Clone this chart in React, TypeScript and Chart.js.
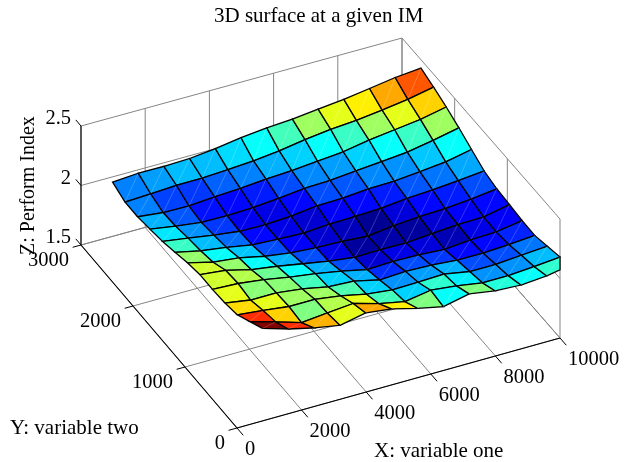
import React, { useEffect, useRef } from "react";
import { Chart } from "chart.js/auto";

// Surface grid (data units)
const xGrid = [400, 1200, 2000, 2800, 3600, 4400, 5200, 6000, 6800, 7600, 8400, 9200, 10000];
const yGrid = [-240, 0, 240, 480, 720, 960, 1200, 1440, 1680, 1920, 2160, 2400, 2640];
const zRows = [
  [2.43, 2.364, 2.313, 2.274, 2.317, 2.29, 2.235, 2.188, 2.235, 2.2, 2.188, 2.204, 2.244],
  [2.364, 2.301, 2.235, 2.255, 2.274, 2.212, 2.169, 2.204, 2.18, 2.145, 2.145, 2.161, 2.18],
  [2.297, 2.274, 2.247, 2.247, 2.216, 2.169, 2.145, 2.149, 2.157, 2.118, 2.118, 2.134, 2.15],
  [2.274, 2.239, 2.239, 2.212, 2.169, 2.157, 2.106, 2.118, 2.11, 2.091, 2.091, 2.102, 2.119],
  [2.266, 2.255, 2.227, 2.188, 2.157, 2.118, 2.071, 2.079, 2.075, 2.06, 2.079, 2.087, 2.122],
  [2.266, 2.243, 2.188, 2.157, 2.118, 2.079, 2.052, 2.056, 2.052, 2.071, 2.087, 2.091, 2.134],
  [2.243, 2.188, 2.165, 2.118, 2.087, 2.071, 2.063, 2.048, 2.075, 2.091, 2.099, 2.118, 2.145],
  [2.208, 2.161, 2.13, 2.091, 2.079, 2.071, 2.087, 2.091, 2.099, 2.122, 2.134, 2.153, 2.174],
  [2.177, 2.145, 2.11, 2.083, 2.079, 2.091, 2.118, 2.122, 2.141, 2.145, 2.165, 2.188, 2.232],
  [2.157, 2.122, 2.095, 2.091, 2.099, 2.118, 2.141, 2.149, 2.169, 2.188, 2.208, 2.247, 2.293],
  [2.138, 2.114, 2.11, 2.126, 2.138, 2.157, 2.169, 2.188, 2.208, 2.247, 2.274, 2.301, 2.346],
  [2.138, 2.149, 2.161, 2.161, 2.173, 2.188, 2.212, 2.247, 2.274, 2.29, 2.317, 2.348, 2.391],
  [2.184, 2.199, 2.197, 2.204, 2.228, 2.26, 2.283, 2.298, 2.322, 2.345, 2.377, 2.41, 2.43],
];
const colorLimits = [2.04, 2.43];

// Axes
const xTicks = [0, 2000, 4000, 6000, 8000, 10000];
const yTicks = [0, 1000, 2000, 3000];
const zTicks = [1.5, 2, 2.5];
const titleText = "3D surface at a given IM";
const xLabel = "X: variable one";
const yLabel = "Y: variable two";
const zLabel = "Z: Perform Index";

const xMax = xTicks[xTicks.length - 1];
const yMax = yTicks[yTicks.length - 1];
const zMin = zTicks[0];
const zMax = zTicks[zTicks.length - 1];

type P = { x: number; y: number };

// Camera of the 3-D box, with the slight convergence seen in the back walls
function project(x: number, y: number, z: number): P {
  const u = x / xMax;
  const v = y / yMax;
  return {
    x: 237 + 323 * u - 156 * v - 2 * u * v,
    y: 428 - 90 * u - 183 * v + 2 * u * v - 119 * (z - zMin),
  };
}

function jet(t: number): string {
  const c = (v: number) => Math.round(255 * Math.max(0, Math.min(1, v)));
  return `rgb(${c(1.5 - Math.abs(4 * t - 3))},${c(1.5 - Math.abs(4 * t - 2))},${c(1.5 - Math.abs(4 * t - 1))})`;
}

// The surface stops at the vertical edge of the box
function clipRight(pts: P[], limit: number): P[] {
  const out: P[] = [];
  for (let i = 0; i < pts.length; i++) {
    const a = pts[i];
    const b = pts[i + 1];
    if (a.x <= limit) out.push(a);
    if (b && (a.x <= limit) !== (b.x <= limit)) {
      const k = (limit - a.x) / (b.x - a.x);
      out.push({ x: limit, y: a.y + k * (b.y - a.y) });
    }
  }
  return out;
}

function lineSet(data: P[], color: string, width: number) {
  return {
    data,
    showLine: true,
    fill: false,
    borderColor: color,
    borderWidth: width,
    pointRadius: 0,
    tension: 0,
  };
}

function buildDatasets() {
  const seq: any[] = [];
  const grid = "#858585";
  const gw = 1;
  const seg = (a: P, b: P, color = grid, w = gw) => seq.push(lineSet([a, b], color, w));

  // back walls and floor
  for (const x of xTicks) {
    seg(project(x, 0, zMin), project(x, yMax, zMin));
    seg(project(x, yMax, zMin), project(x, yMax, zMax));
  }
  for (const y of yTicks) {
    seg(project(0, y, zMin), project(xMax, y, zMin));
    seg(project(xMax, y, zMin), project(xMax, y, zMax));
  }
  for (const z of zTicks) {
    seg(project(0, yMax, z), project(xMax, yMax, z));
    seg(project(xMax, yMax, z), project(xMax, 0, z));
  }

  // surface
  const limit = project(xMax, 0, zMin).x;
  const at = (r: number, c: number) => project(xGrid[c], yGrid[r], zRows[r][c]);
  for (let r = yGrid.length - 2; r >= 0; r--) {
    for (let c = 0; c < xGrid.length - 1; c++) {
      const corners = [at(r, c), at(r, c + 1), at(r + 1, c + 1), at(r + 1, c), at(r, c)];
      const t = (zRows[r][c] - colorLimits[0]) / (colorLimits[1] - colorLimits[0]);
      const poly = clipRight(corners, limit);
      if (poly.length && (poly[0].x !== poly[poly.length - 1].x || poly[0].y !== poly[poly.length - 1].y)) {
        poly.push(poly[0]);
      }
      seq.push({
        ...lineSet(poly, "#000000", 1.3),
        fill: "shape",
        backgroundColor: jet(t),
      });
      seq.push(lineSet(clipRight([corners[0], corners[2]], limit), "rgba(255,255,255,0.3)", 0.7));
    }
  }

  // front axes and tick marks
  const black = "#000000";
  seg(project(0, yMax, zMin), project(0, 0, zMin), black, 1.1);
  seg(project(0, 0, zMin), project(xMax, 0, zMin), black, 1.1);
  seg(project(0, yMax, zMin), project(0, yMax, zMax), black, 1.1);
  for (const x of xTicks) seg(project(x, 0, zMin), project(x, -120, zMin), black, 1);
  for (const y of yTicks) seg(project(0, y, zMin), project(-260, y, zMin), black, 1);
  for (const z of zTicks) seg(project(0, yMax, z), project(0, yMax + 100, z), black, 1);

  const n = seq.length;
  return seq.map((d, i) => ({ ...d, order: n - i }));
}

const textPlugin = {
  id: "boxText",
  afterDraw(chart: any) {
    const { ctx, scales } = chart;
    const px = (p: P) => ({ x: scales.x.getPixelForValue(p.x), y: scales.y.getPixelForValue(p.y) });
    ctx.save();
    ctx.fillStyle = "#000";
    ctx.textBaseline = "alphabetic";

    ctx.font = '21px "Liberation Serif"';
    ctx.textAlign = "left";
    ctx.fillText(titleText, 214, 22);
    ctx.fillText(xLabel, 374, 457);
    ctx.fillText(yLabel, 10, 434);

    ctx.font = '20.5px "Liberation Serif"';
    for (const x of xTicks) {
      const p = px(project(x, 0, zMin));
      ctx.fillText(String(x), p.x + 8, p.y + 27);
    }
    ctx.textAlign = "right";
    for (const y of yTicks) {
      const p = px(project(0, y, zMin));
      ctx.fillText(String(y), p.x - 12, p.y + 21);
    }
    for (const z of zTicks) {
      const p = px(project(0, yMax, z));
      ctx.fillText(String(z), p.x - 10, p.y - 2);
    }

    ctx.font = '20px "Liberation Serif"';
    ctx.translate(34, 255);
    ctx.rotate(-Math.PI / 2);
    ctx.textAlign = "left";
    ctx.fillText(zLabel, 0, 0);
    ctx.restore();
  },
};

export default function App() {
  const ref = useRef<HTMLCanvasElement>(null);
  useEffect(() => {
    const chart = new Chart(ref.current as HTMLCanvasElement, {
      type: "scatter",
      data: { datasets: buildDatasets() },
      options: {
        animation: false,
        responsive: false,
        layout: { padding: 0 },
        events: [],
        scales: {
          x: { type: "linear", display: false, min: 0, max: 624 },
          y: { type: "linear", display: false, min: 0, max: 462, reverse: true },
        },
        plugins: {
          legend: { display: false },
          title: { display: false },
          tooltip: { enabled: false },
          filler: { drawTime: "beforeDatasetDraw" },
        },
      },
      plugins: [textPlugin],
    } as any);
    return () => chart.destroy();
  }, []);
  return (
    <div style={{ position: "fixed", left: 0, top: 0, width: 624, height: 462, background: "#fff" }}>
      <canvas ref={ref} width={624} height={462} style={{ display: "block" }} />
    </div>
  );
}
